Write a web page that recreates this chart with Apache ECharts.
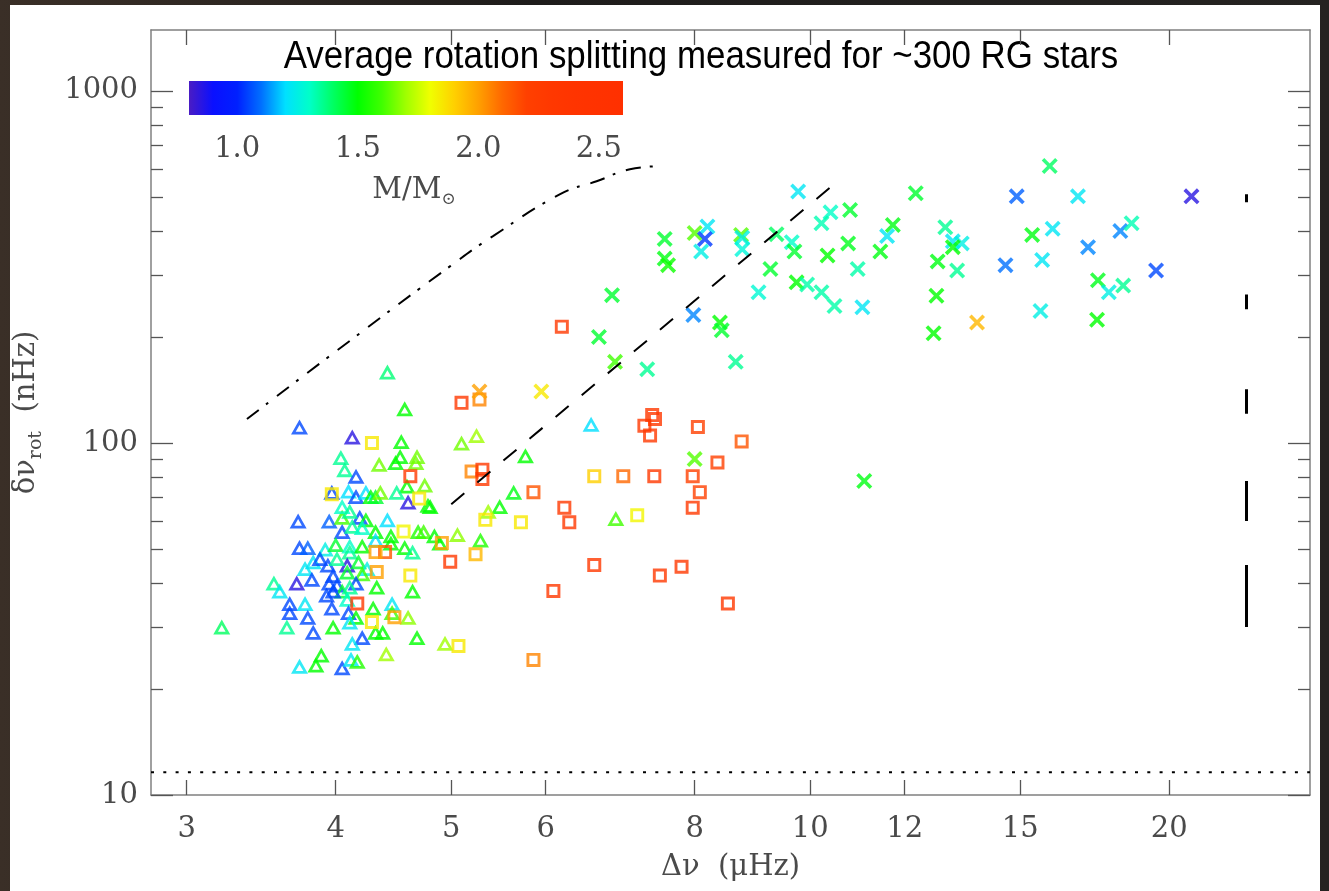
<!DOCTYPE html>
<html>
<head>
<meta charset="utf-8">
<title>Average rotation splitting</title>
<script src="https://cdn.jsdelivr.net/npm/echarts@6/dist/echarts.min.js"></script>
<style>
  html, body { margin: 0; padding: 0; }
  body { width: 1329px; height: 891px; background: linear-gradient(90deg, #3a2f27 0%, #1e1c1b 40%, #252321 100%); position: relative; overflow: hidden; }
  #card { position: absolute; left: 10px; top: 5px; width: 1310px; height: 886px; background: #fff; }
  #chart { position: absolute; left: 0; top: 0; width: 1329px; height: 891px; }
</style>
</head>
<body>
<div id="card"></div>
<div id="chart"></div>
<script>
// [delta nu (muHz), delta nu_rot (nHz), mass (Msun)]
var triangles = [
  [6.55,113,1.2],[5.1,100,1.65],[5.25,105,1.7],[5.77,92,1.5],[5.64,72.5,1.48],[5.49,66,1.5],
  [5.37,64,1.7],[6.87,61,1.6],[5.06,55,1.68],[5.29,53,1.55],[4.89,52,1.5],[4.8,66,1.5],
  [4.42,159,1.38],[4.57,125,1.5],[3.73,111,1.05],[4.13,104,0.85],[4.54,101,1.5],[4.04,91,1.35],
  [4.07,84,1.35],[4.16,80.5,1.05],[4.35,87,1.65],[4.49,88,1.5],[4.53,91.5,1.5],[4.68,91.5,1.65],
  [4.67,88,1.65],[4.75,76,1.65],[4.59,75.5,1.5],[4.5,72.5,1.35],[4.78,66.5,1.5],[4.6,68,0.85],
  [3.97,72.5,1.05],[4.1,73,1.2],[4.16,70.5,1.05],[4.24,72.5,1.2],[4.28,70.5,1.5],[4.32,70.5,1.45],
  [4.36,72.5,1.65],[3.72,60,1.05],[3.95,60,1.08],[4.05,61.5,1.6],[4.19,61.5,1.05],[4.24,60.5,1.5],
  [4.42,60.5,1.2],[4.05,56,1.05],[4.13,58,1.35],[4.21,57.5,1.3],[4.32,56,1.5],[4.45,54.5,1.5],
  [4.69,56,1.55],[4.74,56,1.6],[4.84,54.5,1.5],[3.73,50.5,1.05],[3.79,50.5,1.08],[3.92,50,1.25],
  [4.0,51.5,1.45],[4.11,51,1.3],[4.21,51,1.5],[4.32,53,1.2],[4.45,52,1.5],[4.57,50.5,1.5],
  [4.64,49,1.35],[4.11,49,1.35],[3.83,46,1.22],[3.88,47,1.05],[3.94,45,1.05],[4.09,45,0.85],
  [4.01,47,1.35],[3.77,44,1.22],[4.18,46,1.45],[4.25,44,1.25],[3.98,42,1.05],[4.09,43,1.45],
  [4.21,42.5,1.6],[3.82,41,1.05],[3.71,40,0.85],[3.55,40,1.35],[3.59,38,1.22],[3.95,40,1.05],
  [4.01,39.5,1.05],[4.16,40,1.05],[4.05,38,1.45],[4.11,39,1.35],[3.93,37,1.05],[3.98,38,1.05],
  [4.33,39,1.5],[4.64,38,1.5],[3.66,35,1.05],[3.77,35,1.22],[3.97,34,1.05],[4.09,36,1.3],
  [4.3,34,1.5],[4.46,35,1.22],[3.66,33,1.05],[3.79,32,1.05],[4.1,33,1.05],[4.16,32,1.5],
  [4.46,33,1.6],[4.6,32,1.68],[3.64,30,1.35],[3.83,29,1.05],[3.98,30,1.5],[4.11,31,1.22],
  [4.21,28,1.05],[4.32,29,1.5],[4.38,29,1.5],[4.13,27,1.22],[4.68,28,1.5],[4.94,27,1.7],
  [3.21,30,1.4],[3.89,25,1.5],[3.85,23.4,1.5],[3.73,23.2,1.22],[4.05,23,1.05],[4.12,24.3,1.22],
  [4.17,24,1.55],[4.41,25.2,1.7],[4.05,66,1.3],[4.11,64,1.35]
];
var squares = [
  [6.19,214,2.3],[5.1,130,2.3],[5.28,133,2.05],[5.2,83,2.05],[5.31,84,2.3],[5.31,79,2.3],
  [5.86,72.5,2.15],[6.22,65.5,2.3],[6.28,59.5,2.3],[5.72,59.5,1.85],[5.34,60.5,1.85],[4.91,52,2.0],
  [5.24,48.3,1.95],[4.99,46,2.3],[6.59,80.5,1.9],[6.97,80.5,2.1],[7.4,80.5,2.3],[7.97,80.5,2.2],
  [7.16,62.3,1.82],[7.37,120,2.3],[7.41,117,2.3],[7.26,112,2.3],[7.34,105,2.3],[8.05,111,2.2],
  [8.76,101,2.15],[8.36,88,2.2],[8.08,72.5,2.2],[7.97,65.5,2.3],[6.59,45,2.3],[7.48,42,2.3],
  [7.8,44.5,2.3],[6.09,38,2.3],[8.53,35,2.3],[4.29,100,1.85],[4.62,80.5,2.3],[4.7,69.5,1.85],
  [3.97,71.5,1.85],[4.56,56,1.82],[4.4,49,2.15],[4.32,49,2.0],[4.33,43,2.0],[4.62,42,1.85],
  [4.17,35,2.3],[4.29,31,1.85],[4.48,32,2.0],[5.07,26.5,1.85],[5.86,24.2,2.05]
];
var crosses = [
  [9.77,518,1.22],[10.4,452,1.3],[10.22,421,1.32],[10.34,341,1.5],[8.2,412,1.22],[8.0,395,1.62],
  [8.16,380,1.03],[8.1,350,1.25],[7.55,380,1.45],[7.55,334,1.48],[7.6,320,1.52],[8.75,390,1.62],
  [8.77,383,1.25],[8.77,355,1.27],[9.37,392,1.4],[9.65,372,1.3],[9.7,350,1.45],[9.26,312,1.45],
  [9.05,268,1.28],[9.74,286,1.5],[9.94,282,1.33],[10.22,268,1.33],[10.48,245,1.33],[6.82,263,1.45],
  [6.65,200,1.45],[6.86,170,1.6],[7.3,162,1.35],[7.98,231,1.12],[8.4,220,1.5],[8.43,209,1.45],
  [8.66,170,1.35],[15.88,612,1.4],[12.26,512,1.45],[14.9,502,1.08],[16.77,502,1.22],[20.88,502,0.85],
  [10.8,459,1.45],[11.73,416,1.48],[11.6,387,1.22],[10.76,369,1.47],[11.45,350,1.48],[10.96,312,1.33],
  [12.98,410,1.35],[13.17,374,1.22],[13.4,369,1.25],[13.17,360,1.5],[12.79,328,1.48],[13.28,309,1.35],
  [12.76,262,1.5],[12.69,205,1.5],[13.8,220,1.95],[14.58,320,1.1],[15.65,331,1.22],[15.35,390,1.48],
  [15.97,406,1.22],[15.6,237,1.25],[17.1,360,1.12],[18.2,400,1.12],[18.6,421,1.32],[17.43,290,1.47],
  [18.3,280,1.35],[17.8,268,1.25],[17.4,224,1.5],[19.5,309,1.05],[11.06,243,1.22],[11.1,78,1.48],
  [5.95,140,1.85],[5.28,140,2.0],[8.0,90,1.62]
];
// model curves
var upperCurve = [[3.37,117],[4.11,195],[4.99,318],[5.42,387],[6.17,509],[6.62,554],[7.06,599],[7.44,611]];
var lowerLine = [[5.0,67],[10.4,533]];
var resolution = 11.6;            // nHz, dotted limit
var errBarX = 23.2;
var errBars = [[483,509],[240,264],[121,142],[60,78],[30,45]];

var xTicks = [3,4,5,6,8,10,12,15,20];
var yMajor = [10,100,1000];
var yMinor = [20,30,40,50,60,70,80,90,200,300,400,500,600,700,800,900];
var massTicks = [1.0,1.5,2.0,2.5];
var X_MIN = 2.8, X_MAX = 26.25, Y_MIN = 10, Y_MAX = 1490;
var MASS_MIN = 0.8, MASS_MAX = 2.6;
// colour table, evenly spaced from MASS_MIN to MASS_MAX
var massColors = ['#4a1cc4','#0a10ff','#0020ff','#0070ff','#00e0ff','#00ffc8','#00ff60','#00ff00',
  '#40ff00','#a0ff00','#f0ff00','#ffd000','#ffa000','#ff6800','#ff4000','#ff3800','#ff3400','#ff3200','#ff3000'];

var lg = Math.log10;
function toLog(arr) { return arr.map(function (d) { return [lg(d[0]), lg(d[1]), d[2]]; }); }

var serif = "'DejaVu Serif', 'Liberation Serif', serif";
var txtColor = '#4a4a4a';
var frame = { show: true, onZero: false, lineStyle: { color: '#808080', width: 1.5 } };
var tickStyle = { color: '#555', width: 1.3 };

// hollow symbols as filled rings so the visual colour goes to the outline
var triPath = 'path://M7.5,0L15,13L0,13ZM7.5,4.8L4.15,10.6L10.85,10.6Z';
var sqPath = 'path://M0,0H13V13H0ZM2.7,2.7V10.3H10.3V2.7Z';
var xPath = 'path://M2.4,0L7.5,5.1L12.6,0L15,2.4L9.9,7.5L15,12.6L12.6,15L7.5,9.9L2.4,15L0,12.6L5.1,7.5L0,2.4Z';

var chart = echarts.init(document.getElementById('chart'));

var option = {
  animation: false,
  grid: [
    { left: 151, top: 30, width: 1159, height: 765 },
    { left: 189, top: 81, width: 434, height: 34 }
  ],
  xAxis: [
    {
      gridIndex: 0, type: 'value', position: 'bottom', min: lg(X_MIN), max: lg(X_MAX),
      axisLine: frame,
      axisTick: { inside: true, length: 15, customValues: xTicks.map(lg), lineStyle: tickStyle },
      axisLabel: {
        customValues: xTicks.map(lg), margin: 20, fontFamily: serif, fontSize: 29, color: txtColor,
        formatter: function (v) { return String(Math.round(Math.pow(10, v))); }
      },
      splitLine: { show: false },
      name: 'Δν  (μHz)', nameLocation: 'middle', nameGap: 58,
      nameTextStyle: { fontFamily: serif, fontSize: 29, color: txtColor }
    },
    {
      gridIndex: 0, type: 'value', position: 'top', min: lg(X_MIN), max: lg(X_MAX),
      axisLine: frame,
      axisTick: { inside: true, length: 15, customValues: xTicks.map(lg), lineStyle: tickStyle },
      axisLabel: { show: false }, splitLine: { show: false }
    },
    {
      gridIndex: 1, type: 'value', position: 'bottom', min: MASS_MIN, max: MASS_MAX,
      axisLine: { show: false }, axisTick: { show: false }, splitLine: { show: false },
      axisLabel: {
        customValues: massTicks, margin: 20, fontFamily: serif, fontSize: 29, color: txtColor,
        formatter: function (v) { return v.toFixed(1); }
      },
      name: '{a|M/M}{s|⊙}', nameLocation: 'middle', nameGap: 57,
      nameTextStyle: {
        padding: [0, 0, 0, 16],
        rich: {
          a: { fontFamily: serif, fontSize: 29, color: txtColor, lineHeight: 36 },
          s: { fontFamily: serif, fontSize: 17, color: txtColor, lineHeight: 18, verticalAlign: 'bottom' }
        }
      }
    }
  ],
  yAxis: [
    {
      gridIndex: 0, type: 'value', position: 'left', min: lg(Y_MIN), max: lg(Y_MAX),
      axisLine: frame,
      axisTick: { inside: true, length: 22, customValues: yMajor.map(lg), lineStyle: tickStyle },
      axisLabel: {
        customValues: yMajor.map(lg), margin: 13, fontFamily: serif, fontSize: 29, color: txtColor,
        formatter: function (v) { return String(Math.round(Math.pow(10, v))); }
      },
      splitLine: { show: false },
      name: '{a|δν}{s|rot}{a|  (nHz)}', nameLocation: 'middle', nameGap: 105,
      nameTextStyle: {
        rich: {
          a: { fontFamily: serif, fontSize: 29, color: txtColor, lineHeight: 40 },
          s: { fontFamily: serif, fontSize: 19, color: txtColor, lineHeight: 20, verticalAlign: 'bottom' }
        }
      }
    },
    {
      gridIndex: 0, type: 'value', position: 'left', min: lg(Y_MIN), max: lg(Y_MAX),
      axisLine: { show: false },
      axisTick: { inside: true, length: 12, customValues: yMinor.map(lg), lineStyle: tickStyle },
      axisLabel: { show: false }, splitLine: { show: false }
    },
    {
      gridIndex: 0, type: 'value', position: 'right', min: lg(Y_MIN), max: lg(Y_MAX),
      axisLine: frame,
      axisTick: { inside: true, length: 22, customValues: yMajor.map(lg), lineStyle: tickStyle },
      axisLabel: { show: false }, splitLine: { show: false }
    },
    {
      gridIndex: 0, type: 'value', position: 'right', min: lg(Y_MIN), max: lg(Y_MAX),
      axisLine: { show: false },
      axisTick: { inside: true, length: 12, customValues: yMinor.map(lg), lineStyle: tickStyle },
      axisLabel: { show: false }, splitLine: { show: false }
    },
    { gridIndex: 1, type: 'value', min: 0, max: 1, show: false }
  ],
  visualMap: {
    type: 'continuous', show: false, min: MASS_MIN, max: MASS_MAX, dimension: 2,
    seriesIndex: [0, 1, 2], inRange: { color: massColors }
  },
  graphic: [{
    type: 'text', x: 701, y: 57, scaleX: 0.895, silent: true,
    style: {
      text: 'Average rotation splitting measured for ~300 RG stars',
      font: "39px 'Liberation Sans', Arial, sans-serif", fill: '#000',
      align: 'center', verticalAlign: 'middle', textAlign: 'center', textVerticalAlign: 'middle'
    }
  }],
  series: [
    { type: 'scatter', name: 'triangles', xAxisIndex: 0, yAxisIndex: 0, symbol: triPath, symbolSize: [17, 15],
      data: toLog(triangles) },
    { type: 'scatter', name: 'squares', xAxisIndex: 0, yAxisIndex: 0, symbol: sqPath, symbolSize: 14,
      data: toLog(squares) },
    { type: 'scatter', name: 'crosses', xAxisIndex: 0, yAxisIndex: 0, symbol: xPath, symbolSize: 16,
      data: toLog(crosses) },
    { type: 'line', xAxisIndex: 0, yAxisIndex: 0, symbol: 'none', smooth: 0.5,
      lineStyle: { color: '#000', width: 2, type: [15, 9, 3, 11] },
      data: upperCurve.map(function (d) { return [lg(d[0]), lg(d[1])]; }) },
    { type: 'line', xAxisIndex: 0, yAxisIndex: 0, symbol: 'none',
      lineStyle: { color: '#000', width: 2, type: [17, 17] },
      data: lowerLine.map(function (d) { return [lg(d[0]), lg(d[1])]; }) },
    { type: 'line', xAxisIndex: 0, yAxisIndex: 0, symbol: 'none',
      lineStyle: { color: '#000', width: 2, type: [3, 9.3] },
      data: [[lg(X_MIN), lg(resolution)], [lg(X_MAX), lg(resolution)]] },
    { type: 'lines', coordinateSystem: 'cartesian2d', xAxisIndex: 0, yAxisIndex: 0,
      lineStyle: { color: '#000', width: 3, opacity: 1 },
      data: errBars.map(function (b) { return { coords: [[lg(errBarX), lg(b[0])], [lg(errBarX), lg(b[1])]] }; }) },
    { type: 'custom', xAxisIndex: 2, yAxisIndex: 4, silent: true,
      data: [[MASS_MIN, MASS_MAX]],
      renderItem: function (params, api) {
        var p0 = api.coord([api.value(0), 1]);
        var p1 = api.coord([api.value(1), 0]);
        var stops = massColors.map(function (c, i) { return { offset: i / (massColors.length - 1), color: c }; });
        return { type: 'rect', shape: { x: p0[0], y: p0[1], width: p1[0] - p0[0], height: p1[1] - p0[1] },
          style: { fill: new echarts.graphic.LinearGradient(0, 0, 1, 0, stops) } };
      } }
  ]
};
chart.setOption(option);
</script>
</body>
</html>
